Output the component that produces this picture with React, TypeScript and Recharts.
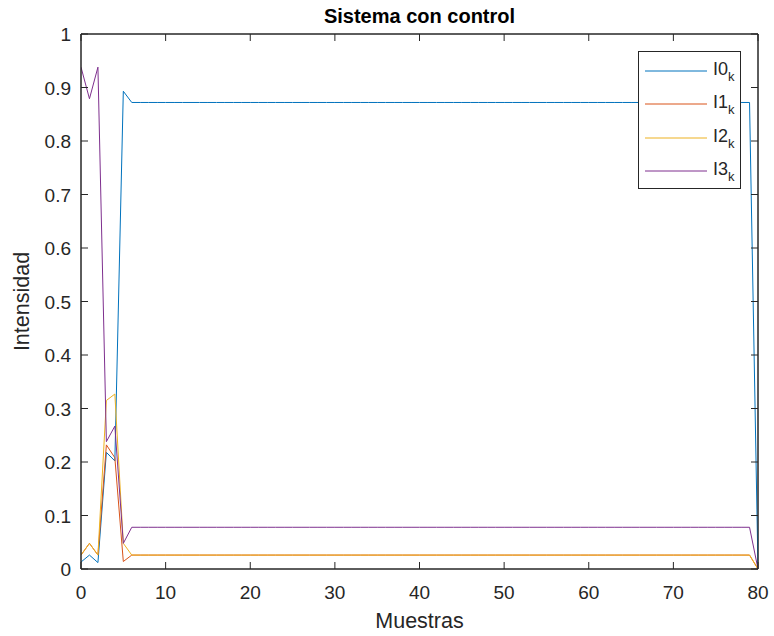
import React from 'react';
import { LineChart, Line, XAxis, YAxis, Label, ReferenceLine } from 'recharts';

// samples 0..80
const muestras = [
  0, 1, 2, 3, 4, 5, 6, 7, 8, 9,
  10, 11, 12, 13, 14, 15, 16, 17, 18, 19,
  20, 21, 22, 23, 24, 25, 26, 27, 28, 29,
  30, 31, 32, 33, 34, 35, 36, 37, 38, 39,
  40, 41, 42, 43, 44, 45, 46, 47, 48, 49,
  50, 51, 52, 53, 54, 55, 56, 57, 58, 59,
  60, 61, 62, 63, 64, 65, 66, 67, 68, 69,
  70, 71, 72, 73, 74, 75, 76, 77, 78, 79,
  80,
];

const i0 = [
  0.013, 0.026, 0.012, 0.218, 0.202, 0.893, 0.872, 0.872, 0.872, 0.872,
  0.872, 0.872, 0.872, 0.872, 0.872, 0.872, 0.872, 0.872, 0.872, 0.872,
  0.872, 0.872, 0.872, 0.872, 0.872, 0.872, 0.872, 0.872, 0.872, 0.872,
  0.872, 0.872, 0.872, 0.872, 0.872, 0.872, 0.872, 0.872, 0.872, 0.872,
  0.872, 0.872, 0.872, 0.872, 0.872, 0.872, 0.872, 0.872, 0.872, 0.872,
  0.872, 0.872, 0.872, 0.872, 0.872, 0.872, 0.872, 0.872, 0.872, 0.872,
  0.872, 0.872, 0.872, 0.872, 0.872, 0.872, 0.872, 0.872, 0.872, 0.872,
  0.872, 0.872, 0.872, 0.872, 0.872, 0.872, 0.872, 0.872, 0.872, 0.872,
  0,
];

const i1 = [
  0.026, 0.048, 0.026, 0.232, 0.208, 0.014, 0.026, 0.026, 0.026, 0.026,
  0.026, 0.026, 0.026, 0.026, 0.026, 0.026, 0.026, 0.026, 0.026, 0.026,
  0.026, 0.026, 0.026, 0.026, 0.026, 0.026, 0.026, 0.026, 0.026, 0.026,
  0.026, 0.026, 0.026, 0.026, 0.026, 0.026, 0.026, 0.026, 0.026, 0.026,
  0.026, 0.026, 0.026, 0.026, 0.026, 0.026, 0.026, 0.026, 0.026, 0.026,
  0.026, 0.026, 0.026, 0.026, 0.026, 0.026, 0.026, 0.026, 0.026, 0.026,
  0.026, 0.026, 0.026, 0.026, 0.026, 0.026, 0.026, 0.026, 0.026, 0.026,
  0.026, 0.026, 0.026, 0.026, 0.026, 0.026, 0.026, 0.026, 0.026, 0.026,
  0,
];

const i2 = [
  0.026, 0.048, 0.026, 0.315, 0.327, 0.048, 0.026, 0.026, 0.026, 0.026,
  0.026, 0.026, 0.026, 0.026, 0.026, 0.026, 0.026, 0.026, 0.026, 0.026,
  0.026, 0.026, 0.026, 0.026, 0.026, 0.026, 0.026, 0.026, 0.026, 0.026,
  0.026, 0.026, 0.026, 0.026, 0.026, 0.026, 0.026, 0.026, 0.026, 0.026,
  0.026, 0.026, 0.026, 0.026, 0.026, 0.026, 0.026, 0.026, 0.026, 0.026,
  0.026, 0.026, 0.026, 0.026, 0.026, 0.026, 0.026, 0.026, 0.026, 0.026,
  0.026, 0.026, 0.026, 0.026, 0.026, 0.026, 0.026, 0.026, 0.026, 0.026,
  0.026, 0.026, 0.026, 0.026, 0.026, 0.026, 0.026, 0.026, 0.026, 0.026,
  0,
];

const i3 = [
  0.938, 0.879, 0.938, 0.238, 0.267, 0.048, 0.078, 0.078, 0.078, 0.078,
  0.078, 0.078, 0.078, 0.078, 0.078, 0.078, 0.078, 0.078, 0.078, 0.078,
  0.078, 0.078, 0.078, 0.078, 0.078, 0.078, 0.078, 0.078, 0.078, 0.078,
  0.078, 0.078, 0.078, 0.078, 0.078, 0.078, 0.078, 0.078, 0.078, 0.078,
  0.078, 0.078, 0.078, 0.078, 0.078, 0.078, 0.078, 0.078, 0.078, 0.078,
  0.078, 0.078, 0.078, 0.078, 0.078, 0.078, 0.078, 0.078, 0.078, 0.078,
  0.078, 0.078, 0.078, 0.078, 0.078, 0.078, 0.078, 0.078, 0.078, 0.078,
  0.078, 0.078, 0.078, 0.078, 0.078, 0.078, 0.078, 0.078, 0.078, 0.078,
  0,
];

const xTicks = [0, 10, 20, 30, 40, 50, 60, 70, 80];
const yTicks = [0, 0.1, 0.2, 0.3, 0.4, 0.5, 0.6, 0.7, 0.8, 0.9, 1];

const series = [
  { key: 'i0', name: 'I0', color: '#0072BD' },
  { key: 'i1', name: 'I1', color: '#D95319' },
  { key: 'i2', name: 'I2', color: '#EDB120' },
  { key: 'i3', name: 'I3', color: '#7E2F8E' },
];

const data = muestras.map((m, k) => ({ m, i0: i0[k], i1: i1[k], i2: i2[k], i3: i3[k] }));

// layout
const W = 774;
const H = 636;
const LEFT = 81;
const RIGHT = 16;
const TOP = 34;
const BOTTOM = 67;
const PLOT_W = W - LEFT - RIGHT;
const PLOT_H = H - TOP - BOTTOM;

const AXIS = '#262626';
const FONT = '"Liberation Sans", Arial, Helvetica, sans-serif';
const TICK = 7;

const BottomTick = ({ x, y, payload }: any) => (
  <text x={x} y={y + 30} textAnchor="middle" fontSize={19} fill={AXIS} fontFamily={FONT}>
    {payload.value}
  </text>
);

const LeftTick = ({ x, y, payload }: any) => (
  <text x={x - 10} y={y + 7} textAnchor="end" fontSize={19} fill={AXIS} fontFamily={FONT}>
    {String(payload.value)}
  </text>
);

const renderXLabel = ({ viewBox }: any) => (
  <text
    x={viewBox.x + viewBox.width / 2}
    y={viewBox.y + 59}
    textAnchor="middle"
    fontSize={21.5}
    fill={AXIS}
    fontFamily={FONT}
  >
    Muestras
  </text>
);

const renderYLabel = ({ viewBox }: any) => {
  const cx = 29;
  const cy = viewBox.y + viewBox.height / 2;
  return (
    <text
      x={cx}
      y={cy}
      transform={`rotate(-90 ${cx} ${cy})`}
      textAnchor="middle"
      fontSize={21.5}
      fill={AXIS}
      fontFamily={FONT}
    >
      Intensidad
    </text>
  );
};

// inward ticks on all four sides (matlab "box on")
const AxesBox = () => {
  const right = LEFT + PLOT_W;
  const bottom = TOP + PLOT_H;
  const px = (v: number) => LEFT + (v / 80) * PLOT_W;
  const py = (v: number) => TOP + (1 - v) * PLOT_H;
  return (
    <svg
      width={W}
      height={H}
      style={{ position: 'absolute', left: 0, top: 0, pointerEvents: 'none', zIndex: 2, overflow: 'visible' }}
    >
      <path
        d={`M${LEFT},${TOP}H${right}V${bottom}H${LEFT}Z`}
        fill="none"
        stroke={AXIS}
        strokeWidth={1}
      />
      {xTicks.map((v) => (
        <path
          key={`x${v}`}
          d={`M${px(v)},${bottom}V${bottom - TICK}M${px(v)},${TOP}V${TOP + TICK}`}
          stroke={AXIS}
          strokeWidth={1}
          fill="none"
        />
      ))}
      {yTicks.map((v) => (
        <path
          key={`y${v}`}
          d={`M${LEFT},${py(v)}H${LEFT + TICK}M${right},${py(v)}H${right - TICK}`}
          stroke={AXIS}
          strokeWidth={1}
          fill="none"
        />
      ))}
    </svg>
  );
};

const LegendBox = () => (
  <div
    style={{
      position: 'absolute',
      left: 638,
      top: 51,
      width: 103,
      height: 138,
      border: `1px solid ${AXIS}`,
      background: '#fff',
      fontFamily: FONT,
      boxSizing: 'border-box',
      zIndex: 3,
    }}
  >
    {series.map((s, k) => (
      <div
        key={s.key}
        style={{ position: 'absolute', left: 0, top: 19 + k * 33.3 - 16, height: 32, width: 100 }}
      >
        <svg width={70} height={32} style={{ position: 'absolute', left: 0, top: 0 }}>
          <line x1={6} y1={16} x2={68} y2={16} stroke={s.color} strokeWidth={1} />
        </svg>
        <div
          style={{
            position: 'absolute',
            left: 74,
            top: 4,
            fontSize: 18,
            lineHeight: '20px',
            color: AXIS,
            whiteSpace: 'nowrap',
          }}
        >
          {s.name}
          <sub style={{ fontSize: 13, verticalAlign: '-6px' }}>k</sub>
        </div>
      </div>
    ))}
  </div>
);

export default function App() {
  return (
    <div style={{ position: 'absolute', left: 0, top: 0, width: W, height: H, background: '#fff' }}>
      <div
        style={{
          position: 'absolute',
          left: LEFT,
          width: PLOT_W,
          top: 3,
          textAlign: 'center',
          fontFamily: FONT,
          fontWeight: 'bold',
          fontSize: 20,
          lineHeight: '26px',
          color: '#000',
          zIndex: 1,
        }}
      >
        Sistema con control
      </div>
      <LineChart
        width={W}
        height={H}
        data={data}
        margin={{ top: TOP, right: RIGHT, left: 0, bottom: 0 }}
        style={{ fontFamily: FONT }}
      >
        <XAxis
          dataKey="m"
          type="number"
          domain={[0, 80]}
          ticks={xTicks}
          height={BOTTOM}
          tickSize={0}
          tickMargin={0}
          tickLine={false}
          tick={<BottomTick />}
          stroke={AXIS}
          allowDataOverflow
          interval={0}
        >
          <Label content={renderXLabel} />
        </XAxis>
        <YAxis
          type="number"
          domain={[0, 1]}
          ticks={yTicks}
          width={LEFT}
          tickSize={0}
          tickMargin={0}
          tickLine={false}
          tick={<LeftTick />}
          stroke={AXIS}
          allowDataOverflow
          interval={0}
        >
          <Label content={renderYLabel} />
        </YAxis>
        <ReferenceLine y={1} stroke={AXIS} ifOverflow="visible" />
        <ReferenceLine x={80} stroke={AXIS} ifOverflow="visible" />
        {series.map((s) => (
          <Line
            key={s.key}
            type="linear"
            dataKey={s.key}
            name={s.name}
            stroke={s.color}
            strokeWidth={1}
            dot={false}
            activeDot={false}
            isAnimationActive={false}
          />
        ))}
      </LineChart>
      <AxesBox />
      <LegendBox />
    </div>
  );
}
